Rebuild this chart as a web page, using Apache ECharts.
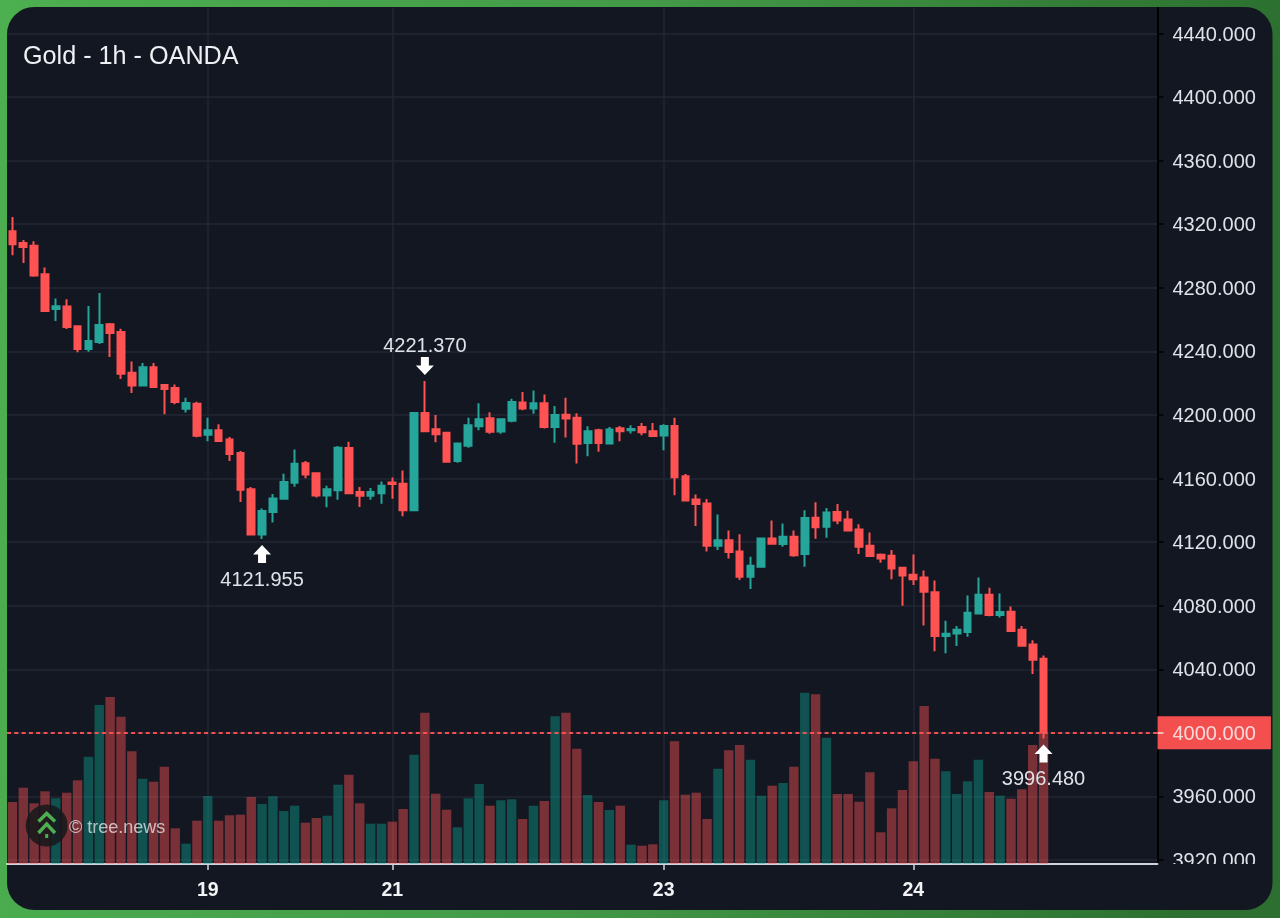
<!DOCTYPE html>
<html>
<head>
<meta charset="utf-8">
<title>Gold - 1h - OANDA</title>
<style>
html,body{margin:0;padding:0;background:#3f8f42;}
#chart{width:1280px;height:918px;}
</style>
<script src="https://cdn.jsdelivr.net/npm/echarts@6/dist/echarts.min.js"></script>
</head>
<body>
<div id="chart"></div>
<script>
// Hourly OHLC prices
const opens = [4315.6,4308.2,4306.4,4288.5,4266.7,4268.2,4255.8,4241.5,4245.9,4257,4252.2,4226.6,4218.6,4230,4218.8,4216.9,4203.9,4207,4187.6,4190.3,4184.6,4176,4153.3,4124.8,4138.9,4147.3,4157.3,
  4169.6,4163.3,4149.4,4152.7,4179.2,4151.5,4149.2,4150.8,4157.5,4156.7,4140,4201.3,4191,4188.8,4171,4180.6,4192.9,4197.9,4189.6,4196.3,4207.9,4204,4207.3,4192.5,4200.1,4198.3,
  4182.4,4190.4,4182,4191.6,4190.4,4192.5,4189.7,4187,4193.1,4161.5,4146.8,4144.3,4117.7,4121.1,4114.1,4098.2,4104.5,4122.3,4118.8,4123.4,4112.5,4135.3,4129.6,4138.9,4134.2,4128,
  4117.7,4112,4111.4,4103.9,4099.4,4097.8,4088.5,4060.9,4062.5,4063.4,4075.1,4086.9,4074.1,4076.2,4064.8,4055.6,4046.6];
const closes = [4307.4,4305.7,4287.7,4265.4,4268.4,4255.3,4241.5,4246.5,4256.6,4251.6,4226,4218.6,4230,4217.6,4216.3,4208.1,4207.5,4186.9,4190.3,4183.6,4175.4,4153,4124.8,4139.5,4147.5,4157.8,4169.3,
  4162.5,4149.4,4153.3,4179.4,4150.8,4149.2,4151.5,4155.4,4156.5,4140,4201.3,4189.8,4187.9,4170.6,4182.1,4193.5,4197.3,4189.4,4197.3,4208.1,4204,4207.3,4192.5,4200,4197.8,4181.9,
  4189.7,4182.4,4190.8,4189.7,4191.2,4189.1,4186.8,4193.1,4160.8,4146.2,4143.9,4117.7,4121.1,4113.7,4098.2,4105.1,4122.3,4119,4123.4,4111.8,4135.1,4129.4,4138.6,4133.6,4127.3,4117.1,
  4111.2,4109.7,4103.4,4099,4096.7,4088.8,4060.9,4062.3,4064.8,4075.5,4086.9,4074.1,4076,4064,4054.8,4046,4000];
const lows = [4300.5,4295.6,4287,4264.8,4259.1,4254.1,4239.4,4239.8,4244.6,4236.5,4222.6,4213.8,4218.4,4217.5,4200.4,4206.7,4201.6,4186,4183.4,4183.6,4171,4145.2,4124.7,4121.955,4132.3,4147.2,4154.8,
  4160.2,4148.1,4141.9,4146.7,4150.4,4142.1,4146.7,4144.2,4147.3,4136.3,4140,4189.2,4182.9,4170.2,4170,4179.4,4190.4,4188.1,4188.1,4195.4,4202.9,4200.8,4191.5,4182.5,4185.8,4169.5,
  4174,4176.8,4181.6,4183.5,4188.3,4187.2,4186.6,4177.8,4149.5,4146,4130.1,4114.1,4115,4109.7,4096.1,4090.5,4103.9,4119,4117.1,4110.8,4104.5,4122.1,4122.7,4131.3,4127.3,4112.5,
  4110.8,4107,4096.7,4080,4093,4067.6,4051.4,4050,4054.6,4060.4,4074.7,4073.4,4072.6,4063.6,4054.2,4037,3996.48];
const highs = [4324.6,4310,4309.3,4292.7,4273.2,4272.8,4255.8,4268.6,4276.8,4257.9,4254.3,4233.7,4232.7,4232.7,4219,4219.2,4210.9,4208.3,4198.3,4194.1,4186.1,4177.3,4154.6,4141.2,4150.2,4163,4178.3,
  4171,4163.3,4155.4,4180.4,4183.1,4154.6,4154,4158.1,4160.6,4165,4201.3,4221.37,4200,4189.4,4182.1,4198.3,4207.3,4201.7,4197.7,4210.2,4214.4,4215.4,4212.9,4205.6,4210.9,4201,
  4192.9,4191.4,4192.5,4193.1,4193.5,4195,4195,4194.1,4198.3,4162.9,4150,4147.2,4137.4,4127.3,4125,4110.8,4122.3,4133.6,4131.7,4127.3,4140.1,4145.1,4141.4,4143.9,4139.7,4131.3,
  4126.1,4112.9,4115,4104.3,4112.2,4102.2,4095.9,4070.5,4067.2,4086.4,4097.8,4091.3,4087.7,4079.5,4067.2,4058.3,4048.7];
const volumes = [62,76.3,60.7,72.7,65.7,71.3,83.7,107.3,159,167,147.3,112.7,85.3,82.3,97.3,35.7,20.3,43.3,68,43.3,48.7,49.3,67,60,67.7,53,58.3,
  41.3,46,48.3,79.3,89.3,60.7,40.3,40.3,42.3,55,109.3,151.3,70.3,54.3,36.7,65.7,80,58.3,63.7,64.7,45,58.3,63,147.7,151.3,115.3,
  69,62,54,58.3,19.3,18.3,19.7,63.7,122.7,69.3,71.3,45,95.3,113.7,119,104.3,68.3,78.3,81,97.3,171.3,169.7,126.3,70,70,62.3,
  91.7,31.7,55.7,74,102.7,158,105.3,92.7,70,82.7,104.3,72,68.3,65.3,74.7,119,130];

// Time axis: ten empty hours of room after the last candle
const hourCount = 106;
const dayTickIndex = [18, 35, 60, 83];
const dayTickLabels = ['19', '21', '23', '24'];
const categories = Array.from({length: hourCount}, (_, i) => {
  const at = dayTickIndex.indexOf(i);
  return at >= 0 ? dayTickLabels[at] : 'h' + i;
});

const priceTicks = [3920,3960,4000,4040,4080,4120,4160,4200,4240,4280,4320,4360,4400,4440];
const priceMin = 3917.48, priceMax = 4456.04;
const lastPrice = 4000;
const peakMark = {index: 38, value: 4221.37};
const troughMark = {index: 23, value: 4121.955};
const lowMark = {index: 95, value: 3996.48};

const RED = '#ff5252', GREEN = '#26a69a', PANEL = '#131722', GRIDLINE = '#232733';
const FONT = '"Liberation Sans", Arial, sans-serif';
const ARROW_UP = 'path://M8 0 L17 9 L12 9 L12 17 L4 17 L4 9 L-1 9 Z';

const isDayTick = (index) => dayTickIndex.includes(index);

function arrowMark(mark, below) {
  return {
    coord: [mark.index, mark.value],
    symbol: ARROW_UP,
    symbolSize: [18, 18],
    symbolRotate: below ? 0 : 180,
    symbolOffset: [0, below ? 15 : -15],
    itemStyle: {color: '#ffffff', borderWidth: 0},
    label: {
      show: true,
      position: below ? 'bottom' : 'top',
      distance: below ? 7 : 1,
      formatter: mark.value.toFixed(3),
      color: '#dfe2e8',
      fontSize: 20,
      fontFamily: FONT
    }
  };
}

const chart = echarts.init(document.getElementById('chart'), null, {renderer: 'canvas'});
chart.setOption({
  animation: false,
  backgroundColor: new echarts.graphic.LinearGradient(0, 0, 1, 0.15, [
    {offset: 0, color: '#4caf50'},
    {offset: 0.5, color: '#439a47'},
    {offset: 1, color: '#2c6f30'}
  ]),
  textStyle: {fontFamily: FONT},
  title: {
    text: 'Gold - 1h - OANDA',
    left: 18,
    top: 40,
    textStyle: {color: '#eef0f3', fontSize: 25.2, fontWeight: 'normal', fontFamily: FONT}
  },
  grid: [
    {left: 7, right: 122.5, top: 8, bottom: 54},
    {left: 7, right: 122.5, top: 8, bottom: 54}
  ],
  xAxis: [
    {
      type: 'category',
      gridIndex: 0,
      data: categories,
      boundaryGap: true,
      axisLine: {lineStyle: {color: '#d1d4dc', width: 2}},
      axisTick: {show: true, alignWithLabel: true, interval: isDayTick, length: 6, lineStyle: {color: '#d1d4dc', width: 1.5}},
      splitLine: {show: true, alignWithLabel: true, interval: isDayTick, lineStyle: {color: GRIDLINE, width: 1.5}},
      axisLabel: {
        interval: isDayTick,
        color: '#f2f3f5',
        fontSize: 19.5,
        fontWeight: 'bold',
        margin: 17,
        fontFamily: FONT,
        hideOverlap: false
      }
    },
    {type: 'category', gridIndex: 1, data: categories, show: false}
  ],
  yAxis: [
    {
      type: 'value',
      gridIndex: 0,
      position: 'right',
      min: priceMin,
      max: priceMax,
      axisLine: {show: true, onZero: false, lineStyle: {color: '#000000', width: 2}},
      axisTick: {show: true, customValues: priceTicks, length: 6, lineStyle: {color: '#000000', width: 1.5}},
      splitLine: {show: true, customValues: priceTicks, lineStyle: {color: GRIDLINE, width: 1.5}},
      axisLabel: {
        customValues: priceTicks,
        formatter: (v) => '{p|' + v.toFixed(3) + '}',
        rich: {p: {color: '#dfe2e8', fontSize: 20, padding: [3, 0, 0, 0], fontFamily: FONT}},
        margin: 15,
        showMinLabel: true,
        showMaxLabel: true
      }
    },
    {type: 'value', gridIndex: 1, min: 0, max: 856, show: false},
    // Pale tick of the last price, drawn over its red tag
    {
      type: 'value',
      gridIndex: 0,
      position: 'right',
      min: priceMin,
      max: priceMax,
      z: 20,
      zlevel: 1,
      axisLine: {show: false},
      axisTick: {show: true, customValues: [lastPrice], length: 6, lineStyle: {color: '#f7dcdc', width: 1.5}},
      axisLabel: {show: false},
      splitLine: {show: false}
    }
  ],
  series: [
    {
      name: 'Volume',
      type: 'bar',
      xAxisIndex: 1,
      yAxisIndex: 1,
      barWidth: 9.4,
      z: 1,
      data: volumes,
      itemStyle: {
        color: (p) => closes[p.dataIndex] >= opens[p.dataIndex] ? 'rgba(10,165,145,0.42)' : 'rgba(255,82,82,0.44)'
      }
    },
    {
      name: 'Gold',
      type: 'candlestick',
      xAxisIndex: 0,
      yAxisIndex: 0,
      barWidth: 7.2,
      z: 3,
      data: opens.map((o, i) => [o, closes[i], lows[i], highs[i]]),
      itemStyle: {color: GREEN, color0: RED, borderColor: GREEN, borderColor0: RED, borderWidth: 2},
      markLine: {
        silent: true,
        symbol: 'none',
        animation: false,
        lineStyle: {color: RED, type: [4, 3.3], width: 1.8, opacity: 0.95},
        label: {
          show: true,
          position: 'end',
          distance: 0,
          backgroundColor: RED,
          padding: [0, 15, 0, 15],
          formatter: '{price|' + lastPrice.toFixed(3) + '}',
          rich: {
            price: {color: '#f6dfdf', fontSize: 20, lineHeight: 33, padding: [3, 0, 0, 0], fontFamily: FONT}
          }
        },
        data: [{yAxis: lastPrice}]
      },
      markPoint: {
        silent: true,
        animation: false,
        data: [arrowMark(troughMark, true), arrowMark(peakMark, false), arrowMark(lowMark, true)]
      }
    }
  ],
  graphic: [
    {
      type: 'rect',
      silent: true,
      z: -1,
      shape: {x: 7, y: 7, width: 1265.5, height: 903, r: 27},
      style: {fill: PANEL}
    },
    // Trims the lowest price label where the axis pane ends
    {
      type: 'rect',
      silent: true,
      z: 100,
      shape: {x: 1160, y: 864, width: 105, height: 18},
      style: {fill: PANEL}
    },
    // tree.news badge
    {
      type: 'group',
      silent: true,
      z: 90,
      children: [
        {type: 'circle', z: 90, shape: {cx: 46.7, cy: 825.5, r: 21}, style: {fill: 'rgba(24,24,28,0.88)'}},
        {type: 'polyline', z: 91, shape: {points: [[38.5, 821.5], [46.7, 813.5], [55, 821.5]]}, style: {stroke: '#4caf50', lineWidth: 3.5, fill: null}},
        {type: 'polyline', z: 91, shape: {points: [[38.5, 833], [46.7, 824], [55, 833]]}, style: {stroke: '#4caf50', lineWidth: 3.5, fill: null}},
        {type: 'rect', z: 91, shape: {x: 45.2, y: 834, width: 3, height: 4}, style: {fill: '#4caf50'}},
        {type: 'text', z: 91, x: 69, y: 819, style: {text: '© tree.news', fill: 'rgba(255,255,255,0.68)', fontSize: 18, fontFamily: FONT}}
      ]
    }
  ]
});
</script>
</body>
</html>
